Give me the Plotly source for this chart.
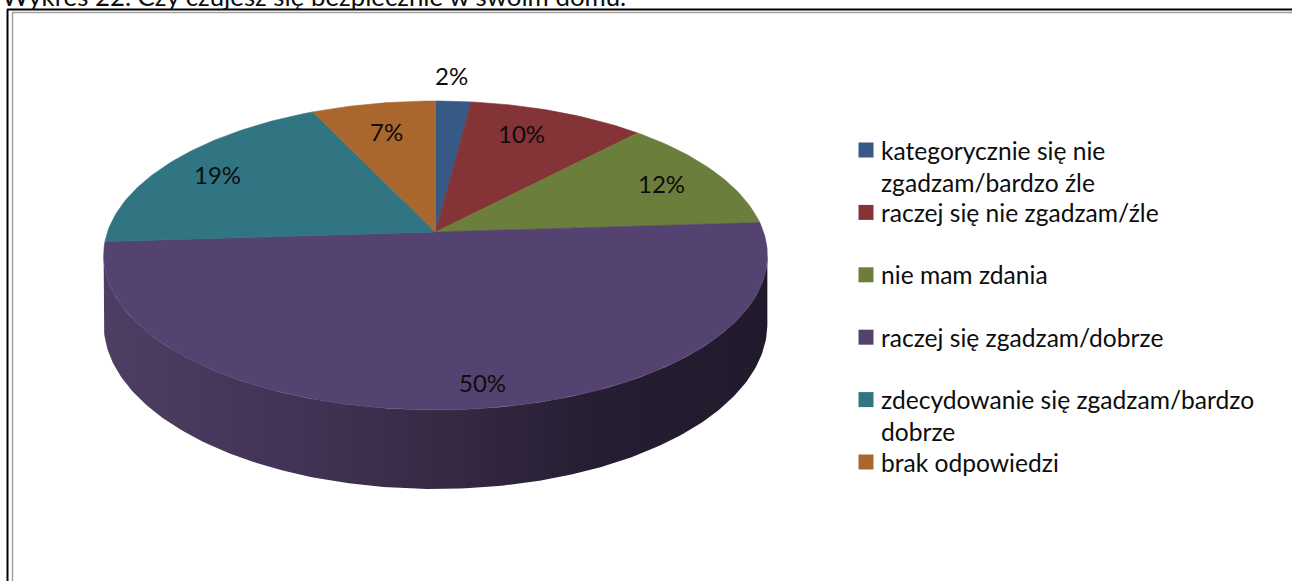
import numpy as np
import plotly.graph_objects as go

# ---------------- data ----------------
categories = [
    "kategorycznie się nie zgadzam/bardzo źle",
    "raczej się nie zgadzam/źle",
    "nie mam zdania",
    "raczej się zgadzam/dobrze",
    "zdecydowanie się zgadzam/bardzo dobrze",
    "brak odpowiedzi",
]
legend_labels = [
    "kategorycznie się nie\nzgadzam/bardzo źle",
    "raczej się nie zgadzam/źle",
    "nie mam zdania",
    "raczej się zgadzam/dobrze",
    "zdecydowanie się zgadzam/bardzo\ndobrze",
    "brak odpowiedzi",
]
values = [2, 10, 12, 50, 19, 7]
title_text = "Wykres 22. Czy czujesz się bezpiecznie w swoim domu."

# ---------------- style ----------------
colors = ["#375985", "#843336", "#6b7e3b", "#544270", "#317482", "#a9662d"]
side_scale = [[0, "#4d3e63"], [0.3, "#413354"], [0.5, "#372a45"], [0.75, "#251d32"], [1, "#211a2c"]]
FONT = "Lato"
W, H = 1292, 581

# pie geometry (pixel space, perspective-tilted disk)
CX, CY = 435.5, 232.0
RA, RB = 328.0, 150.9     # horizontal / vertical radii factors
P = 0.152                 # perspective factor
DEPTH = 67.0              # thickness

label_k = [1.23, 0.8, 0.8, 0.87, 0.8, 0.76]
label_dx = [-5, -15, 0, 26, -5, 0]
label_dy = [0, 0, 0, 0, 0, 0]


def proj(phi, z=0.0):
    u = np.sin(phi)
    v = np.cos(phi)
    w = 1 + P * v
    return CX + RA * u / w, CY - RB * v / w + z * DEPTH / w


fig = go.Figure()

total = float(sum(values))
fr = np.array(values) / total
ends = np.cumsum(fr) * 2 * np.pi
starts = ends - fr * 2 * np.pi

# side of the pie (front visible part)
phiR = np.arccos(-P)
phiL = 2 * np.pi - phiR
for i in range(len(values)):
    a0, a1 = max(starts[i], phiR), min(ends[i], phiL)
    if a1 <= a0:
        continue
    t = np.linspace(a0, a1, 200)
    xt, yt = proj(t, 0)
    xb, yb = proj(t[::-1], 1)
    xs = np.concatenate([xt, xb, xt[:1]])
    ys = np.concatenate([yt, yb, yt[:1]])
    fig.add_trace(go.Scatter(
        x=xs, y=ys, mode="lines", fill="toself", line=dict(width=0),
        fillgradient=dict(type="horizontal", colorscale=side_scale),
        hoverinfo="skip", showlegend=False))

# top face slices
for i in range(len(values)):
    n = max(int(fr[i] * 400), 8)
    t = np.linspace(starts[i], ends[i], n)
    xa, ya = proj(t, 0)
    xs = np.concatenate([[CX], xa, [CX]])
    ys = np.concatenate([[CY], ya, [CY]])
    fig.add_trace(go.Scatter(
        x=xs, y=ys, mode="lines", fill="toself", fillcolor=colors[i],
        line=dict(width=0.6, color=colors[i]), hoverinfo="skip", showlegend=False,
        name=categories[i]))

annotations = []
# percentage labels
for i in range(len(values)):
    mid = (starts[i] + ends[i]) / 2
    k = label_k[i]
    u, v = k * np.sin(mid), k * np.cos(mid)
    w = 1 + P * v
    lx = CX + RA * u / w + label_dx[i]
    ly = CY - RB * v / w + label_dy[i]
    annotations.append(dict(x=lx, y=ly, xref="x", yref="y", text=f"{values[i]}%",
                            showarrow=False, xanchor="center", yanchor="middle",
                            font=dict(family=FONT, size=24, color="#0d0d0d")))

# legend
LX, LY0, LSTEP, LINE = 866, 150, 62.4, 32
for i, lab in enumerate(legend_labels):
    yc = LY0 + i * LSTEP
    fig.add_trace(go.Scatter(x=[LX], y=[yc], mode="markers",
                             marker=dict(symbol="square", size=15, color=colors[i], line=dict(width=0)),
                             hoverinfo="skip", showlegend=False))
    for j, line in enumerate(lab.split("\n")):
        annotations.append(dict(x=LX + 13, y=yc + j * LINE, xref="x", yref="y", text=line,
                                showarrow=False, xanchor="left", yanchor="middle",
                                font=dict(family=FONT, size=24.6, color="#0d0d0d")))

# cut-off title (partially above the page edge, as in the source)
annotations.append(dict(x=0, y=13.5, xref="x", yref="y", text=title_text, showarrow=False,
                        xanchor="left", yanchor="bottom",
                        font=dict(family=FONT, size=25.8, color="#0d0d0d")))

shapes = [
    dict(type="line", xref="x", yref="y", x0=7.5, x1=7.5, y0=9.5, y1=H, line=dict(color="#000000", width=2)),
    dict(type="line", xref="x", yref="y", x0=7, x1=W, y0=9.5, y1=9.5, line=dict(color="#000000", width=2)),
    dict(type="line", xref="x", yref="y", x0=12.5, x1=12.5, y0=12, y1=H, line=dict(color="#a0a0a0", width=1.5)),
    dict(type="line", xref="x", yref="y", x0=12, x1=W, y0=12.5, y1=12.5, line=dict(color="#a0a0a0", width=1.5)),
]

fig.update_layout(
    width=W, height=H, margin=dict(l=0, r=0, t=0, b=0),
    paper_bgcolor="white", plot_bgcolor="white",
    xaxis=dict(range=[0, W], visible=False, fixedrange=True),
    yaxis=dict(range=[H, 0], visible=False, fixedrange=True),
    annotations=annotations, shapes=shapes, showlegend=False,
)

fig.write_html("out.html", include_plotlyjs=True, config={"displayModeBar": False, "staticPlot": True},
               post_script="document.body.style.margin='0px';document.body.style.overflow='hidden';")
